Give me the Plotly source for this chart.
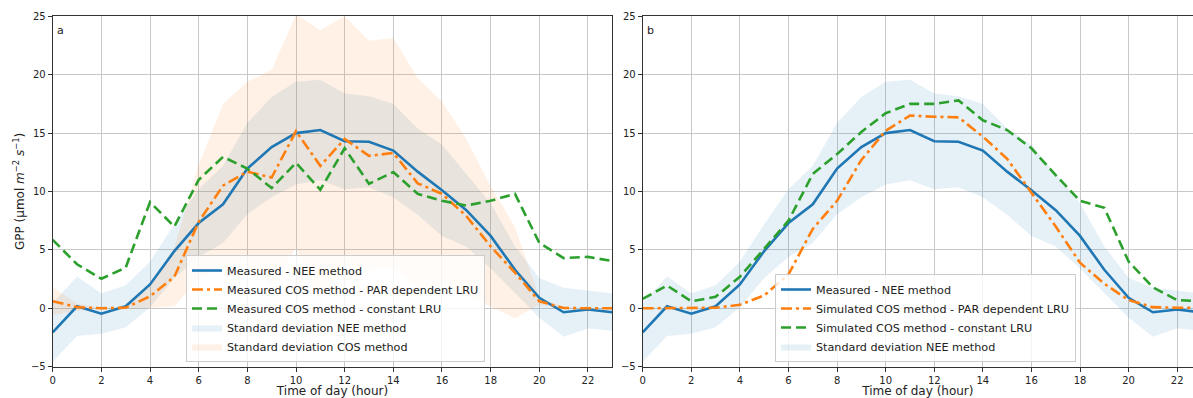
import plotly.graph_objects as go

hours = list(range(24))

# Measured GPP - NEE method (both panels)
nee_measured = [-2.07, 0.17, -0.46, 0.17, 2.04, 4.9, 7.3, 8.9, 11.96, 13.8, 15.0, 15.26,
                14.3, 14.26, 13.5, 11.7, 10.1, 8.4, 6.2, 3.3, 0.9, -0.34, -0.11, -0.34]
nee_std = [2.5, 2.55, 1.72, 1.8, 1.95, 2.3, 2.9, 3.3, 3.9, 4.3, 4.4, 4.3,
           4.1, 3.9, 4.0, 3.7, 3.9, 3.1, 2.8, 2.0, 1.7, 2.1, 1.6, 1.6]

# Panel a: measured COS method
cos_par_measured = [0.6, 0.1, 0.0, 0.05, 1.03, 2.7, 7.4, 10.5, 11.7, 11.2, 15.17, 12.2,
                    14.5, 13.05, 13.3, 10.7, 9.8, 7.9, 5.3, 3.05, 0.6, 0.03, 0.0, 0.0]
cos_const_measured = [5.86, 3.77, 2.53, 3.48, 9.09, 7.0, 11.0, 12.97, 11.96, 10.3, 12.45, 10.15,
                      13.7, 10.66, 11.67, 9.8, 9.2, 8.8, 9.2, 9.8, 5.6, 4.3, 4.4, 4.05]
cos_std = [1.2, 0.3, 0.05, 0.1, 1.0, 2.5, 4.9, 7.0, 7.7, 9.2, 10.0, 11.6,
           10.5, 9.85, 9.85, 9.0, 7.9, 6.6, 5.15, 3.9, 0.3, 0.05, 0.0, 0.0]

# Panel b: simulated COS method
cos_par_simulated = [0.0, 0.0, 0.0, 0.05, 0.3, 1.1, 2.9, 6.8, 9.2, 12.7, 15.2, 16.5,
                     16.4, 16.35, 14.7, 12.8, 9.9, 7.0, 3.9, 2.1, 0.7, 0.1, 0.05, 0.05]
cos_const_simulated = [0.8, 1.95, 0.6, 0.98, 2.7, 5.06, 7.5, 11.5, 13.2, 15.1, 16.7, 17.5,
                       17.5, 17.8, 16.1, 15.26, 13.7, 11.4, 9.2, 8.6, 4.0, 1.8, 0.7, 0.6]

x_ticks = list(range(0, 24, 2))
y_ticks = [-5, 0, 5, 10, 15, 20, 25]

BLUE = "#1f77b4"
ORANGE = "#ff7f0e"
GREEN = "#2ca02c"
FONT = "DejaVu Sans"

W, H = 1193, 398

fig = go.Figure()


def band(mean, std, color, name, xa, ya, legend, rank, show=True):
    up = [m + s for m, s in zip(mean, std)]
    lo = [m - s for m, s in zip(mean, std)]
    fig.add_trace(go.Scatter(
        x=hours + hours[::-1], y=up + lo[::-1], fill="toself", fillcolor=color,
        line=dict(width=0, color=color), mode="lines", name=name, hoverinfo="skip",
        xaxis=xa, yaxis=ya, legend=legend, legendrank=rank, showlegend=show))


def line(y, color, dash, name, xa, ya, legend, rank):
    fig.add_trace(go.Scatter(
        x=hours, y=y, mode="lines", name=name,
        line=dict(color=color, width=2.6, dash=dash),
        xaxis=xa, yaxis=ya, legend=legend, legendrank=rank))


# Panel a
band(nee_measured, nee_std, "rgba(31,119,180,0.11)", "Standard deviation NEE method", "x", "y", "legend", 4)
band(cos_par_measured, cos_std, "rgba(255,127,14,0.11)", "Standard deviation COS method", "x", "y", "legend", 5)
line(nee_measured, BLUE, "solid", "Measured - NEE method", "x", "y", "legend", 1)
line(cos_par_measured, ORANGE, "11px,4px,3px,4px", "Measured COS method - PAR dependent LRU", "x", "y", "legend", 2)
line(cos_const_measured, GREEN, "10px,5px", "Measured COS method - constant LRU", "x", "y", "legend", 3)

# Panel b
band(nee_measured, nee_std, "rgba(31,119,180,0.11)", "Standard deviation NEE method", "x2", "y2", "legend2", 4)
line(nee_measured, BLUE, "solid", "Measured - NEE method", "x2", "y2", "legend2", 1)
line(cos_par_simulated, ORANGE, "11px,4px,3px,4px", "Simulated COS method - PAR dependent LRU", "x2", "y2", "legend2", 2)
line(cos_const_simulated, GREEN, "10px,5px", "Simulated COS method - constant LRU", "x2", "y2", "legend2", 3)

x_dom1 = [52.7 / W, 612.3 / W]
x_dom2 = [642.7 / W, 1.0]
y_dom = [1 - 366.7 / H, 1 - 16.3 / H]

axis_common = dict(
    showgrid=True, gridcolor="#c8c8c8", gridwidth=1, zeroline=False,
    showline=True, linecolor="#333333", linewidth=1,
    ticks="outside", ticklen=4, tickcolor="#333333",
    tickfont=dict(family=FONT, size=10, color="#222222"),
)

title_font = dict(family=FONT, size=12, color="#222222")

fig.update_layout(
    width=W, height=H,
    margin=dict(l=0, r=0, t=0, b=0, autoexpand=False),
    paper_bgcolor="white", plot_bgcolor="white",
    font=dict(family=FONT, color="#222222"),
    xaxis=dict(domain=x_dom1, range=[0, 23], tickvals=x_ticks, mirror=True, anchor="y",
               automargin=False,
               title=dict(text="Time of day (hour)", font=title_font, standoff=5), **axis_common),
    yaxis=dict(domain=y_dom, range=[-5, 25], tickvals=y_ticks, mirror=True, anchor="x",
               automargin=False, **axis_common),
    xaxis2=dict(domain=x_dom2, range=[0, 22.65], tickvals=x_ticks, mirror=True, anchor="y2",
                automargin=False,
                title=dict(text="Time of day (hour)", font=title_font, standoff=5), **axis_common),
    yaxis2=dict(domain=y_dom, range=[-5, 25], tickvals=y_ticks, mirror=False, anchor="x2",
                automargin=False, **axis_common),
    legend=dict(x=186 / W, y=1 - 362 / H, xanchor="left", yanchor="bottom",
                bgcolor="rgba(255,255,255,0.8)", bordercolor="#cccccc", borderwidth=1,
                font=dict(family=FONT, size=11.2, color="#222222"), traceorder="normal"),
    legend2=dict(x=775 / W, y=1 - 362 / H, xanchor="left", yanchor="bottom",
                 bgcolor="rgba(255,255,255,0.8)", bordercolor="#cccccc", borderwidth=1,
                 font=dict(family=FONT, size=11.2, color="#222222"), traceorder="normal"),
    showlegend=True,
)

fig.add_annotation(text="a", x=55 / W, y=1 - 31 / H, xref="paper", yref="paper",
                   xanchor="left", yanchor="middle", showarrow=False, font=dict(family=FONT, size=11, color="#222222"))
fig.add_annotation(text="b", x=645 / W, y=1 - 31 / H, xref="paper", yref="paper",
                   xanchor="left", yanchor="middle", showarrow=False, font=dict(family=FONT, size=11, color="#222222"))
fig.add_annotation(text="GPP (\u03bcmol <i>m</i><sup>\u22122</sup> <i>s</i><sup>\u22121</sup>)",
                   x=19 / W, y=1 - 192 / H, xref="paper", yref="paper", textangle=-90,
                   xanchor="center", yanchor="middle", showarrow=False, font=title_font)

fig.write_html("out.html")
